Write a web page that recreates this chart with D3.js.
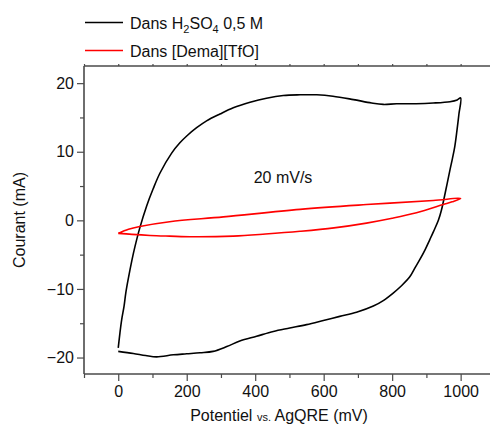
<!DOCTYPE html>
<html><head><meta charset="utf-8">
<script src="https://cdn.jsdelivr.net/npm/d3@7"></script>
<style>body{margin:0;background:#fff}svg{display:block}text{font-family:"Liberation Sans",Arial,sans-serif}</style>
</head><body>
<svg id="c" width="490" height="425"></svg>
<script>
// Black CV (H2SO4 0.5 M): forward then reverse sweep
const blackX = [0,5,10,17,22,29,40,49,63,83,102,122,156,180,200,229,258,297,336,385,433,482,531,580,627,687,740,774,813,870,920,969,990,1000,
  995,989,983,976,969,957,944,935,921,910,896,881,867,852,828,803,774,745,696,647,599,550,501,453,404,355,317,277,239,200,161,112,80,44,0];
const blackY = [-18.6,-16.4,-14.5,-12.5,-10.6,-8.6,-5.8,-3.8,-1.1,2.1,4.6,6.9,9.8,11.3,12.3,13.5,14.5,15.5,16.4,17.2,17.8,18.2,18.3,18.3,18.1,17.6,17.1,16.9,17.0,17.0,17.1,17.3,17.55,17.85,
  15.5,13.0,10.8,9.0,7.4,4.5,1.5,0,-1.6,-2.8,-4.3,-5.7,-6.9,-8.2,-9.5,-10.6,-11.7,-12.5,-13.4,-14.0,-14.6,-15.2,-15.7,-16.2,-16.9,-17.6,-18.4,-19.1,-19.3,-19.45,-19.6,-19.9,-19.7,-19.4,-19.1];
// Red CV ([Dema][TfO])
const redX = [0,30,63,150,307,531,725,920,1000,975,949,871,800,725,630,531,430,336,219,150,93,40,0];
const redY = [-1.9,-1.3,-0.9,-0.2,0.5,1.6,2.3,2.9,3.2,2.7,2.3,1.1,0.3,-0.4,-1.1,-1.6,-2.0,-2.3,-2.4,-2.3,-2.2,-2.05,-1.9];
const xTicks = [0,200,400,600,800,1000];
const yTicks = [-20,-10,0,10,20];

const svg = d3.select("#c");
const L = 84, T = 66, B = 374;
const x = d3.scaleLinear().domain([-100,1100]).range([L, L + 1200*0.3424]);
const y = d3.scaleLinear().domain([-22.4,22.5]).range([B, T]);
const axisCol = "#4a4a4a";

const line = d3.line().x(d => x(d[0])).y(d => y(d[1])).curve(d3.curveCatmullRom.alpha(0.5));
svg.append("path").datum(blackX.map((v,i)=>[v,blackY[i]]))
  .attr("d", line).attr("fill","none").attr("stroke","#000").attr("stroke-width",1.6).attr("stroke-linejoin","round");
svg.append("path").datum(redX.map((v,i)=>[v,redY[i]]))
  .attr("d", line).attr("fill","none").attr("stroke","#ff0000").attr("stroke-width",1.6).attr("stroke-linejoin","round");

// Axes
const xAx = svg.append("g").attr("transform",`translate(0,${B})`)
  .call(d3.axisBottom(x).tickValues(xTicks).tickSize(7).tickPadding(5).tickFormat(d3.format("d")));
const xMin = svg.append("g").attr("transform",`translate(0,${B})`)
  .call(d3.axisBottom(x).tickValues(d3.range(-100,1101,200)).tickSize(4).tickFormat(""));
const yAx = svg.append("g").attr("transform",`translate(${L},0)`)
  .call(d3.axisLeft(y).tickValues(yTicks).tickSize(7).tickPadding(3).tickFormat(d3.format("d")));
const yMin = svg.append("g").attr("transform",`translate(${L},0)`)
  .call(d3.axisLeft(y).tickValues([-15,-5,5,15]).tickSize(4).tickFormat(""));
const xTop = svg.append("g").attr("transform",`translate(0,${T})`)
  .call(d3.axisTop(x).tickValues(d3.range(-100,1101,100)).tickSize(2).tickFormat(""));
[xAx,xMin,yAx,yMin,xTop].forEach(g=>{
  g.select(".domain").attr("stroke",axisCol).attr("stroke-width",1.6);
  g.selectAll(".tick line").attr("stroke",axisCol).attr("stroke-width",1.2);
  g.selectAll(".tick text").attr("fill","#111").style("font-size","16px").style("font-family","Liberation Sans, Arial, sans-serif");
});
xTop.select(".domain").attr("d",`M${L},0H490`);
xAx.select(".domain").attr("d",`M${L},0H490`);
xMin.select(".domain").remove();
yMin.select(".domain").remove();
yAx.select(".domain").attr("d",`M0,${T}V${B}`);

// Axis titles
const xt = svg.append("text").attr("x",279).attr("y",421).attr("text-anchor","middle")
  .style("font-size","16px").attr("fill","#111");
xt.append("tspan").text("Potentiel ");
xt.append("tspan").text("vs.").style("font-size","11px");
xt.append("tspan").text(" AgQRE (mV)");
svg.append("text").attr("transform","translate(25,220) rotate(-90)").attr("text-anchor","middle")
  .style("font-size","16px").attr("fill","#111").text("Courant (mA)");

// Annotation
svg.append("text").attr("x",283).attr("y",183).attr("text-anchor","middle")
  .style("font-size","16px").attr("fill","#111").text("20 mV/s");

// Legend
svg.append("line").attr("x1",85).attr("x2",123).attr("y1",22.5).attr("y2",22.5).attr("stroke","#000").attr("stroke-width",1.6);
svg.append("line").attr("x1",85).attr("x2",123).attr("y1",50.5).attr("y2",50.5).attr("stroke","#ff0000").attr("stroke-width",1.6);
const l1 = svg.append("text").attr("x",130).attr("y",28.5).style("font-size","16px").attr("fill","#111");
l1.append("tspan").text("Dans H");
l1.append("tspan").text("2").style("font-size","11px").attr("dy",4);
l1.append("tspan").text("SO").attr("dy",-4);
l1.append("tspan").text("4").style("font-size","11px").attr("dy",4);
l1.append("tspan").text(" 0,5 M").attr("dy",-4);
svg.append("text").attr("x",130).attr("y",56.5).style("font-size","16px").attr("fill","#111").text("Dans [Dema][TfO]");
</script>
</body></html>
